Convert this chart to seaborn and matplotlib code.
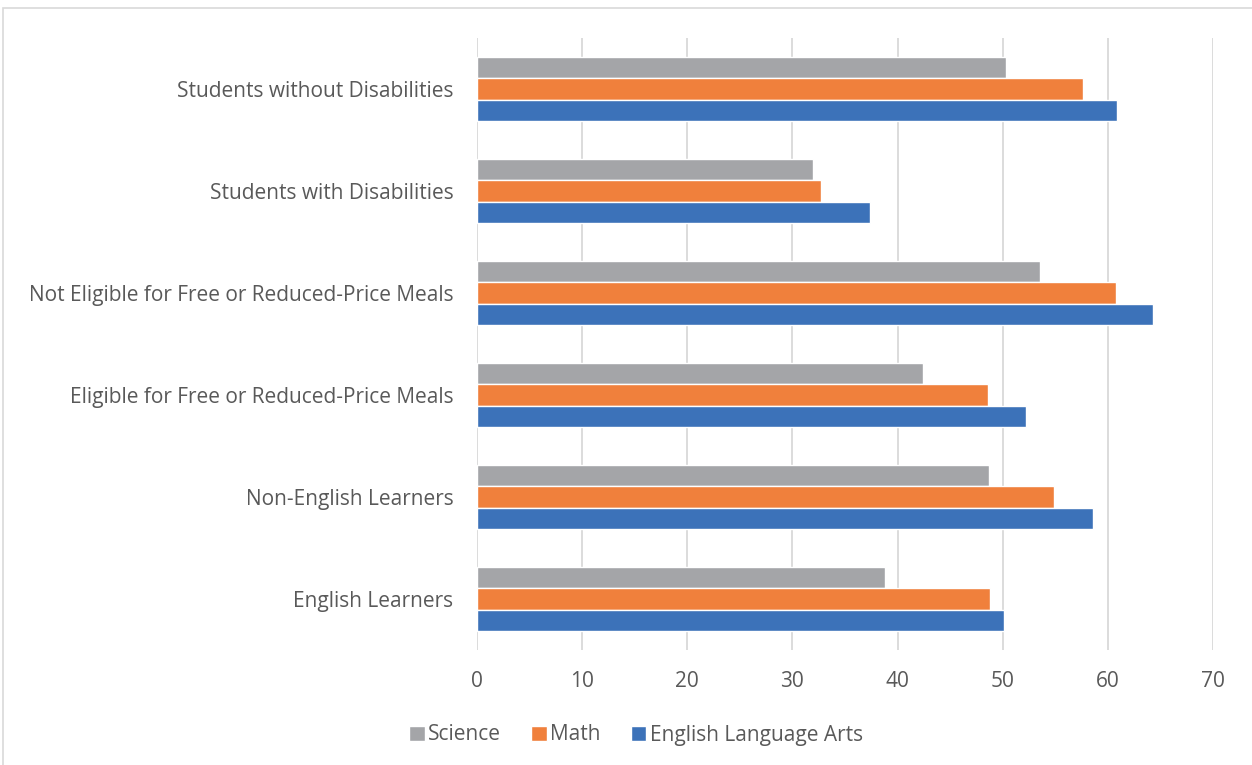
import pandas as pd
import matplotlib.pyplot as plt
import seaborn as sns
from matplotlib.patches import Rectangle, Patch

sns.set_theme(style="white")
plt.rcParams['font.family'] = ['Open Sans', 'DejaVu Sans']

# Dados do gráfico

grupos = ["Students without Disabilities", "Students with Disabilities",
          "Not Eligible for Free or Reduced-Price Meals", "Eligible for Free or Reduced-Price Meals",
          "Non-English Learners", "English Learners"]
science = [50.3, 32.0, 53.5, 42.4, 48.7, 38.8]
math = [57.6, 32.7, 60.8, 48.6, 54.9, 48.8]
ela = [60.9, 37.4, 64.3, 52.2, 58.6, 50.1]
materias = ["Science", "Math", "English Language Arts"]
cores = ["#A4A5A8", "#F0803C", "#3C72B9"]
ticks_x = [0, 10, 20, 30, 40, 50, 60, 70]

dados = pd.DataFrame({
    "Grupo": grupos * 3,
    "Materia": ["Science"] * 6 + ["Math"] * 6 + ["English Language Arts"] * 6,
    "Valor": science + math + ela,
})

fig = plt.figure(figsize=(12.52, 7.65), dpi=100)
ax = fig.add_axes([477 / 1252, 1 - 650 / 765, (1213 - 477) / 1252, (650 - 38) / 765])

sns.barplot(data=dados, y="Grupo", x="Valor", hue="Materia", order=grupos,
            hue_order=materias, palette=cores, width=0.62, orient="h",
            saturation=1, ax=ax, legend=False)

ax.set_xlim(0, 70)
ax.set_xticks(ticks_x)
ax.set_xlabel("")
ax.set_ylabel("")
ax.grid(axis="x", color="#D9D9D9", linewidth=1.3)
ax.set_axisbelow(True)
for lado in ax.spines.values():
    lado.set_visible(False)
ax.tick_params(axis="both", length=0, labelsize=15, colors="#595959")
ax.tick_params(axis="x", pad=15)
ax.tick_params(axis="y", pad=17)

# Legenda abaixo

alcas = [Patch(facecolor=c, label=m) for c, m in zip(cores, materias)]
fig.legend(handles=alcas, loc="center", bbox_to_anchor=(0.508, 1 - 735 / 765), ncol=3,
           frameon=False, fontsize=15, handlelength=0.75, handleheight=0.75,
           handletextpad=0.15, columnspacing=1.45, labelcolor="#595959")

# Borda externa

fig.patches.append(Rectangle((3 / 1252, -0.05), 1.1, 1 - 8 / 765 + 0.05, transform=fig.transFigure,
                             fill=False, edgecolor="#D9D9D9", linewidth=1.2))

plt.savefig("out.png", dpi=100)
